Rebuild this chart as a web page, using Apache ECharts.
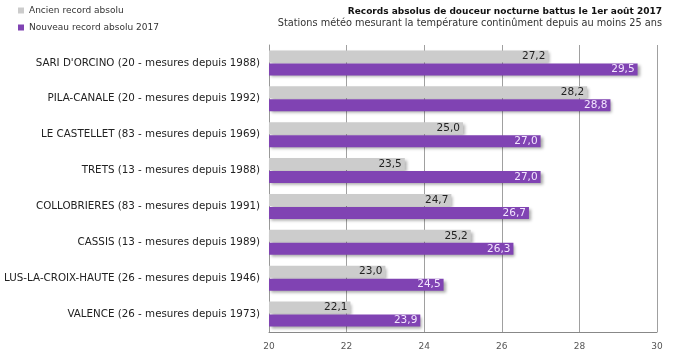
<!DOCTYPE html>
<html><head><meta charset="utf-8">
<script src="https://cdn.jsdelivr.net/npm/echarts@6/dist/echarts.min.js"></script>
<style>html,body{margin:0;padding:0;background:#fff}#c{width:675px;height:360px}</style>
</head><body><div id="c"></div>
<script>
var categories = [
  "SARI D'ORCINO (20 - mesures depuis 1988)",
  "PILA-CANALE (20 - mesures depuis 1992)",
  "LE CASTELLET (83 - mesures depuis 1969)",
  "TRETS (13 - mesures depuis 1988)",
  "COLLOBRIERES (83 - mesures depuis 1991)",
  "CASSIS (13 - mesures depuis 1989)",
  "LUS-LA-CROIX-HAUTE (26 - mesures depuis 1946)",
  "VALENCE (26 - mesures depuis 1973)"
];
var ancienRecord = [27.2, 28.2, 25.0, 23.5, 24.7, 25.2, 23.0, 22.1];
var nouveauRecord = [29.5, 28.8, 27.0, 27.0, 26.7, 26.3, 24.5, 23.9];
var seriesNames = ["Ancien record absolu", "Nouveau record absolu 2017"];
var titleText = "Records absolus de douceur nocturne battus le 1er août 2017";
var subText = "Stations météo mesurant la température continûment depuis au moins 25 ans";

var font = "DejaVu Sans";
function fmt(p){ return p.value.toFixed(1).replace('.', ','); }
var chart = echarts.init(document.getElementById('c'), null, {renderer:'canvas'});
chart.setOption({
  animation:false,
  textStyle:{fontFamily:font},
  title:[
    {
      text:titleText, right:8, top:2, padding:[5,5,5,5],
      textStyle:{fontFamily:font, fontSize:9.0, fontWeight:'bold', color:'#111'}
    },
    {
      text:subText, right:8, top:13, padding:[5,5,5,5],
      textStyle:{fontFamily:font, fontSize:9.75, fontWeight:'normal', color:'#333'}
    }
  ],
  legend:{
    orient:'vertical', left:13, top:1, itemWidth:6, itemHeight:6, itemGap:8,
    icon:'rect',
    textStyle:{fontFamily:font, fontSize:9, color:'#333'},
    data:seriesNames
  },
  grid:{left:269, right:18, top:45, bottom:28, containLabel:false, outerBoundsMode:'none'},
  xAxis:{
    type:'value', min:20, max:30, interval:2,
    axisLine:{show:true, lineStyle:{color:'#888'}},
    axisTick:{show:false},
    axisLabel:{fontFamily:font, fontSize:9, color:'#555', margin:10},
    splitLine:{show:true, lineStyle:{color:'#a0a0a0', width:1}}
  },
  yAxis:{
    type:'category', data:categories, inverse:true,
    axisLine:{show:true, lineStyle:{color:'#999'}},
    axisTick:{show:false},
    axisLabel:{fontFamily:font, fontSize:10.3, color:'#222', margin:9, padding:[3,0,0,0]}
  },
  series:[
    {
      name:seriesNames[0], type:'bar', data:ancienRecord,
      barWidth:12, barGap:'8%',
      itemStyle:{color:'#cccccc', shadowColor:'rgba(0,0,0,0.3)', shadowBlur:3, shadowOffsetX:2, shadowOffsetY:2},
      label:{show:true, position:'insideRight', formatter:fmt, fontFamily:font, fontSize:10.5, color:'#222', distance:3}
    },
    {
      name:seriesNames[1], type:'bar', data:nouveauRecord,
      barWidth:12, barGap:'8%',
      itemStyle:{color:'#8043b3', shadowColor:'rgba(0,0,0,0.35)', shadowBlur:3, shadowOffsetX:2, shadowOffsetY:2},
      label:{show:true, position:'insideRight', formatter:fmt, fontFamily:font, fontSize:10.5, color:'#f3e6ff', distance:3}
    }
  ]
});
</script></body></html>
